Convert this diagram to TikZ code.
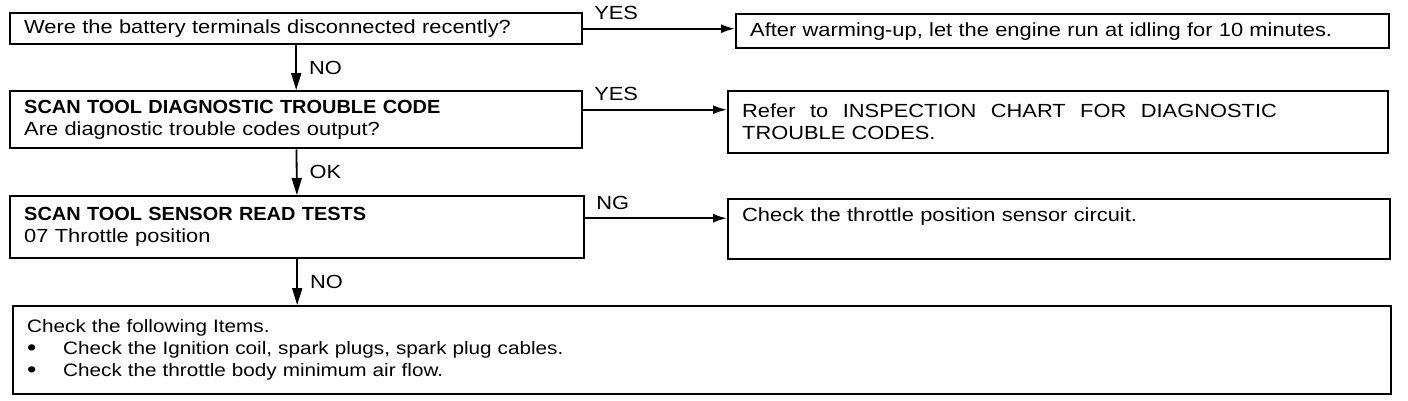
\documentclass[tikz,border=0pt]{standalone}
\usepackage{fontspec}
\setmainfont{Liberation Sans}[FakeStretch=1.15, BoldFeatures={FakeStretch=1.05}]
\usetikzlibrary{arrows.meta}
\usetikzlibrary{calc}

\newcommand{\itemdot}{\makebox[36pt][l]{\smash{\raisebox{-1pt}{\fontsize{23}{22}\selectfont\textbullet}}}}

\begin{document}
\begin{tikzpicture}[x=1pt, y=-1pt, font=\fontsize{19}{22}\selectfont,
  box/.style={draw, line width=2.4pt, anchor=north west, align=left, inner xsep=14pt, inner ysep=0pt},
  down/.style={line width=1.8pt, -{Triangle[length=17pt,width=10pt]}},
  side/.style={line width=1.8pt, -{Latex[length=14pt,width=9pt]}},
  answer/.style={fill=none, draw=none, inner xsep=10pt, inner ysep=8pt}]
        % Fix the picture size
        \useasboundingbox (0,0) rectangle (1408,400);

        % Left column: the questions
        \node[box, text width=544pt, minimum height=31pt] (q1) at (9,12) {Were the battery terminals disconnected recently?};
        \node[box, text width=544pt, minimum height=57pt] (q2) at (9,90) {\textbf{SCAN TOOL DIAGNOSTIC TROUBLE CODE}\\Are diagnostic trouble codes output?};
        \node[box, text width=546pt, minimum height=62pt] (q3) at (9,195) {\textbf{SCAN TOOL SENSOR READ TESTS}\\07 Throttle position};
        \node[box, font=\fontsize{18}{22}\selectfont, text width=1350pt, minimum height=88pt] (q4) at (12,305) {Check the following Items.\\\itemdot Check the Ignition coil, spark plugs, spark plug cables.\\\itemdot Check the throttle body minimum air flow.};

        % Right column: what to do
        \node[box, text width=625pt, minimum height=34pt] (r1) at (735,13) {After warming-up, let the engine run at idling for 10 minutes.};
        \node[box, text width=632pt, minimum height=62pt] (r2) at (727,90) {{\spaceskip=14.5pt Refer to INSPECTION CHART FOR DIAGNOSTIC}\\TROUBLE CODES.};
        \node[box, text width=634pt, minimum height=60pt] (r3) at (727,198) {Check the throttle position sensor circuit.\\\strut};

        % Down the chart
        \draw[down] (q1) -- (q2) node[answer, midway, right, inner xsep=12pt, inner ysep=0pt] {NO};
        \draw[down] (q2) -- (q3) node[answer, midway, right, inner xsep=12pt, inner ysep=0pt] {OK};
        \draw[down] (q3.south) -- (q3.south |- q4.north) node[answer, midway, right, inner xsep=12pt, inner ysep=0pt] {NO};

        % Across the chart
        \draw[side] (q1.east) -- (q1.east -| r1.west) node[answer, pos=0, above right] {YES};
        \draw[side] ([yshift=10pt]q2.east) -- ([yshift=10pt]q2.east -| r2.west) node[answer, pos=0, above right] {YES};
        \draw[side] ([yshift=9pt]q3.east) -- ([yshift=9pt]q3.east -| r3.west) node[answer, pos=0, above right] {NG};
      \end{tikzpicture}
\end{document}
